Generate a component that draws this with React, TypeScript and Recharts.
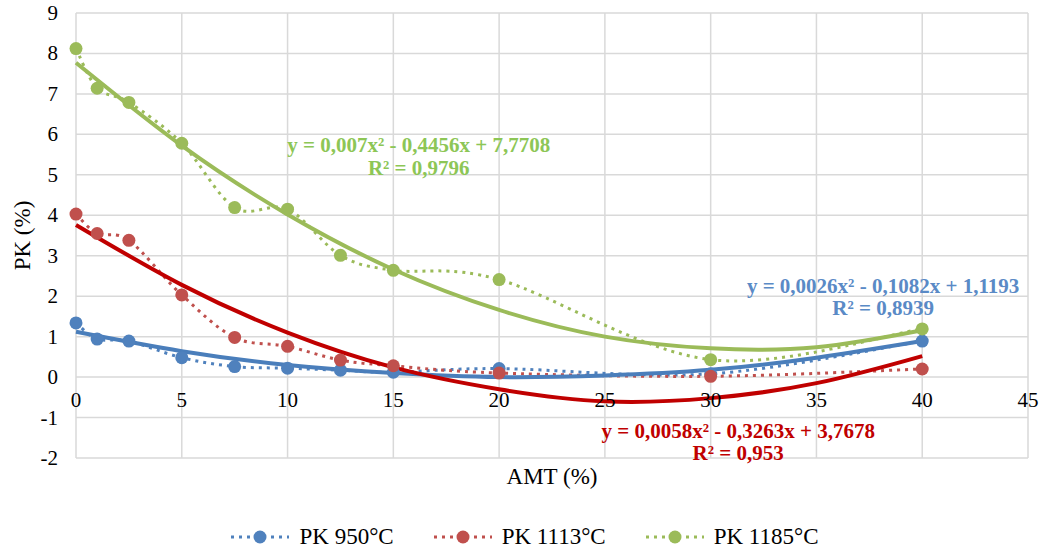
import React from "react";
import {
  ComposedChart,
  Line,
  XAxis,
  YAxis,
  CartesianGrid,
  Legend,
  ReferenceDot,
} from "recharts";

// measured points (AMT %)
const amt = [0, 1, 2.5, 5, 7.5, 10, 12.5, 15, 20, 30, 40];
const pk950 = [1.34, 0.94, 0.89, 0.48, 0.26, 0.22, 0.17, 0.12, 0.21, 0.08, 0.89];
const pk1113 = [4.03, 3.55, 3.38, 2.03, 0.98, 0.76, 0.42, 0.28, 0.1, 0.02, 0.2];
const pk1185 = [8.12, 7.14, 6.79, 5.78, 4.19, 4.15, 3.01, 2.64, 2.41, 0.43, 1.19];

// polynomial trendlines as drawn
const trendAmt = [0, 5, 10, 15, 20, 25, 30, 35, 40];
const trend950 = [1.12, 0.64, 0.3, 0.1, 0.0, 0.04, 0.18, 0.48, 0.89];
const trend1113 = [3.76, 2.28, 1.1, 0.24, -0.3, -0.6, -0.52, -0.15, 0.52];
const trend1185 = [7.77, 5.72, 4.02, 2.66, 1.66, 1.0, 0.71, 0.74, 1.16];

const xTicks = [0, 5, 10, 15, 20, 25, 30, 35, 40, 45];
const yTicks = [-2, -1, 0, 1, 2, 3, 4, 5, 6, 7, 8, 9];

const series = [
  { key: "pk950", name: "PK 950°C", color: "#4F81BD" },
  { key: "pk1113", name: "PK 1113°C", color: "#C0504D" },
  { key: "pk1185", name: "PK 1185°C", color: "#9BBB59" },
];

const trends = [
  { key: "t950", color: "#4A7EBB" },
  { key: "t1113", color: "#C00000" },
  { key: "t1185", color: "#9BBB59" },
];

const equations = [
  { x: 16.2, y: 5.73, color: "#8DC656", l1: "y = 0,007x² - 0,4456x + 7,7708", l2: "R² = 0,9796" },
  { x: 38.15, y: 2.26, color: "#5A8AC6", l1: "y = 0,0026x² - 0,1082x + 1,1193", l2: "R² = 0,8939" },
  { x: 31.3, y: -1.33, color: "#C00000", l1: "y = 0,0058x² - 0,3263x + 3,7678", l2: "R² = 0,953" },
];

const rows = Array.from(new Set([...amt, ...trendAmt]))
  .sort((a, b) => a - b)
  .map((x) => {
    const i = amt.indexOf(x);
    const j = trendAmt.indexOf(x);
    return {
      x,
      pk950: i >= 0 ? pk950[i] : null,
      pk1113: i >= 0 ? pk1113[i] : null,
      pk1185: i >= 0 ? pk1185[i] : null,
      t950: j >= 0 ? trend950[j] : null,
      t1113: j >= 0 ? trend1113[j] : null,
      t1185: j >= 0 ? trend1185[j] : null,
    };
  });

const FONT = '"Liberation Serif", "Times New Roman", serif';
const W = 1042;
const H = 553;
const TOP = 13;
const X_AXIS_H = 95;
const PLOT_H = H - TOP - X_AXIS_H;
// distance from plot bottom up to the y=0 line
const ZERO_UP = (PLOT_H * (0 - -2)) / (9 - -2);

// Excel style smoothed line (Catmull-Rom bezier)
function excelSmooth(context: any) {
  let pts: number[][] = [];
  return {
    areaStart() {},
    areaEnd() {},
    lineStart() {
      pts = [];
    },
    point(x: number, y: number) {
      pts.push([+x, +y]);
    },
    lineEnd() {
      const n = pts.length;
      if (!n) return;
      context.moveTo(pts[0][0], pts[0][1]);
      for (let i = 0; i < n - 1; i++) {
        const p0 = pts[i - 1] || pts[i];
        const p1 = pts[i];
        const p2 = pts[i + 1];
        const p3 = pts[i + 2] || p2;
        context.bezierCurveTo(
          p1[0] + (p2[0] - p0[0]) / 6,
          p1[1] + (p2[1] - p0[1]) / 6,
          p2[0] - (p3[0] - p1[0]) / 6,
          p2[1] - (p3[1] - p1[1]) / 6,
          p2[0],
          p2[1]
        );
      }
    },
  };
}

const XTick = (props: any) => {
  const { x, y, payload } = props;
  return (
    <text
      x={x}
      y={y - ZERO_UP + 23}
      textAnchor="middle"
      dominantBaseline="central"
      fontFamily={FONT}
      fontSize={21}
      fill="#000"
    >
      {payload.value}
    </text>
  );
};

const YTick = (props: any) => {
  const { x, y, payload } = props;
  return (
    <text
      x={x}
      y={y}
      textAnchor="end"
      dominantBaseline="central"
      fontFamily={FONT}
      fontSize={21}
      fill="#000"
    >
      {payload.value}
    </text>
  );
};

const makeEq = (color: string, l1: string, l2: string) => (props: any) => (
  <g fontFamily={FONT} fontSize={21} fontWeight="bold" fill={color}>
    <text x={props.cx} y={props.cy} textAnchor="middle" dominantBaseline="central">
      {l1}
    </text>
    <text x={props.cx} y={props.cy + 22.5} textAnchor="middle" dominantBaseline="central">
      {l2}
    </text>
  </g>
);

const LegendContent = () => (
  <div
    style={{
      display: "flex",
      justifyContent: "center",
      alignItems: "center",
      gap: 40,
      fontFamily: FONT,
      fontSize: 23,
      color: "#000",
      paddingLeft: 8,
    }}
  >
    {series.map((s) => (
      <div key={s.key} style={{ display: "flex", alignItems: "center", gap: 10 }}>
        <svg width={58} height={20}>
          <line x1={0} y1={10} x2={58} y2={10} stroke={s.color} strokeWidth={3} strokeDasharray="3 5" />
          <circle cx={29} cy={10} r={6.5} fill={s.color} />
        </svg>
        <span>{s.name}</span>
      </div>
    ))}
  </div>
);

export default function App() {
  return (
    <div style={{ position: "absolute", left: 0, top: 0, background: "#fff" }}>
      <ComposedChart
        width={W}
        height={H}
        data={rows}
        margin={{ top: TOP, right: 14, bottom: 0, left: 0 }}
      >
        <CartesianGrid stroke="#d9d9d9" strokeWidth={1.5} />
        <XAxis
          dataKey="x"
          type="number"
          domain={[0, 45]}
          ticks={xTicks}
          axisLine={false}
          tickLine={false}
          tickSize={0}
          tickMargin={0}
          height={X_AXIS_H}
          tick={<XTick />}
          interval={0}
          label={{
            value: "AMT (%)",
            position: "insideTop",
            offset: 10,
            fill: "#000",
            fontSize: 23,
            fontFamily: FONT,
          }}
        />
        <YAxis
          type="number"
          domain={[-2, 9]}
          ticks={yTicks}
          axisLine={false}
          tickLine={false}
          tickSize={0}
          tickMargin={0}
          width={76}
          interval={0}
          tick={(p: any) => <YTick {...p} x={58} />}
          label={(p: any) => {
            const vb = (p && p.viewBox) || { x: 0, y: TOP, width: 76, height: PLOT_H };
            return (
              <text
                transform={`translate(${vb.x + 22},${vb.y + vb.height / 2}) rotate(-90)`}
                textAnchor="middle"
                dominantBaseline="central"
                fontFamily={FONT}
                fontSize={23}
                fill="#000"
              >
                PK (%)
              </text>
            );
          }}
        />
        {series.map((s) => (
          <Line
            key={s.key}
            dataKey={s.key}
            name={s.name}
            type={excelSmooth as any}
            stroke={s.color}
            strokeWidth={3}
            strokeDasharray="3 5"
            connectNulls
            dot={{ r: 6.5, fill: s.color, stroke: "none", strokeWidth: 0 }}
            activeDot={false}
            isAnimationActive={false}
          />
        ))}
        {trends.map((t) => (
          <Line
            key={t.key}
            dataKey={t.key}
            type="natural"
            stroke={t.color}
            strokeWidth={4}
            connectNulls
            dot={false}
            activeDot={false}
            legendType="none"
            isAnimationActive={false}
          />
        ))}
        {equations.map((e, i) => (
          <ReferenceDot
            key={i}
            x={e.x}
            y={e.y}
            r={1}
            ifOverflow="visible"
            shape={makeEq(e.color, e.l1, e.l2)}
          />
        ))}
        <Legend
          verticalAlign="middle"
          align="center"
          wrapperStyle={{ top: 524, left: 0, width: W }}
          content={<LegendContent />}
        />
      </ComposedChart>
    </div>
  );
}
